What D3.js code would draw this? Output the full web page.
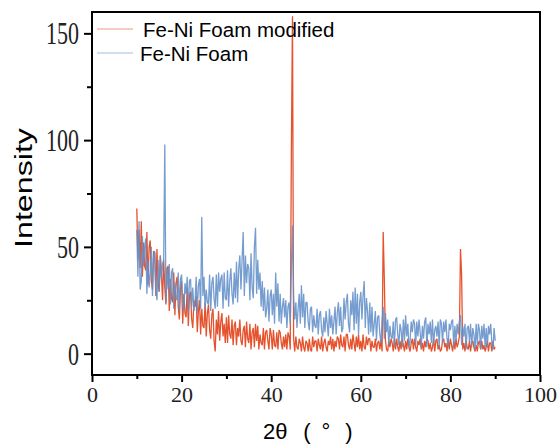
<!DOCTYPE html>
<html>
<head>
<meta charset="utf-8">
<script src="https://cdn.jsdelivr.net/npm/d3@7"></script>
<style>
    body { margin: 0; background: #fff; }
    #chart { width: 559px; height: 448px; }
</style>
</head>
<body>
<div id="chart"></div>
<script>

// series names (legend order)
let seriesNames = ["Fe-Ni Foam modified", "Fe-Ni Foam"];
let seriesColors = ["#e5532e", "#6390c8"];

// 2θ scan grid, 10° .. 90°, 0.25° step
let twoTheta = d3.range(10, 90.001, 0.25);

// intensities (4 values per degree, starting at 10°)
let modifiedY = [
    68, 44, 58, 40,   62, 36, 52, 41,   39, 57, 32, 50,   53, 34, 30, 48,   47, 27, 49, 33,
    29, 46, 37, 25,   44, 31, 23, 40,   41, 20, 35, 26,   24, 38, 18, 33,   36, 22, 16, 31,
    34, 14, 28, 19,   17, 31, 13, 27,   29, 16, 12, 25,   22, 27, 10, 20,   25, 9, 21, 13,
    12, 24, 8, 19,    23, 11, 7, 18,    21, 6, 1, 16,     9, 20, 6, 15,     19, 8, 14, 5,
    17, 5, 18, 9,     7, 16, 4, 13,     15, 4, 12, 8,     16, 6, 4, 11,     13, 3, 15, 7,
    5, 14, 2, 10,     12, 3, 14, 6,     13, 2, 9, 5,      4, 12, 2, 10,     11, 6, 2, 12,
    9, 2, 11, 4,      3, 10, 2, 11,     10, 5, 2, 8,      3, 9, 2, 10,      8, 2, 94, 158,
    7, 1, 8, 3,       2, 7, 5, 1,       8, 3, 1, 6,       5, 1, 7, 2,       1, 8, 3, 6,
    6, 1, 7, 4,       2, 8, 1, 5,       7, 3, 1, 6,       4, 8, 2, 7,       1, 6, 3, 8,
    7, 2, 9, 4,       3, 8, 1, 9,       9, 4, 2, 7,       2, 9, 5, 1,       8, 3, 9, 2,
    6, 1, 9, 3,       2, 8, 4, 7,       7, 1, 6, 3,       3, 7, 1, 5,       6, 2, 7, 1,
    57, 35, 6, 2,     1, 6, 3, 7,       5, 1, 7, 2,       7, 3, 1, 6,       2, 7, 4, 1,
    6, 2, 7, 3,       1, 5, 7, 2,       7, 3, 1, 6,       4, 7, 2, 5,       1, 6, 3, 7,
    6, 2, 5, 1,       3, 7, 1, 6,       7, 2, 4, 1,       2, 6, 7, 3,       5, 1, 7, 2,
    7, 4, 1, 6,       2, 7, 3, 5,       8, 49, 37, 2,     5, 1, 6, 3,       2, 6, 1, 5,
    6, 3, 1, 4,       1, 5, 6, 2,       6, 2, 4, 1,       3, 6, 1, 5,       5, 1, 6, 2,
    3
];

let foamY = [
    58, 36, 62, 30,   34, 55, 41, 50,   54, 28, 44, 31,   38, 50, 27, 46,   48, 30, 25, 44,
    29, 46, 35, 42,   44, 98, 24, 40,   30, 42, 23, 38,   40, 21, 33, 26,   25, 38, 20, 35,
    37, 23, 20, 33,   28, 36, 19, 34,   35, 22, 31, 20,   24, 36, 19, 32,   35, 21, 64, 27,
    36, 21, 30, 24,   23, 37, 20, 33,   36, 26, 21, 37,   22, 38, 29, 35,   37, 21, 38, 26,
    25, 39, 22, 34,   40, 28, 23, 38,   26, 43, 24, 40,   46, 30, 44, 57,   27, 46, 33, 42,
    40, 25, 47, 31,   26, 50, 59, 28,   44, 30, 38, 22,   34, 20, 31, 17,   21, 30, 15, 27,
    30, 18, 28, 14,   38, 22, 33, 15,   28, 14, 22, 26,   17, 25, 12, 22,   24, 14, 40, 60,
    26, 16, 24, 12,   21, 28, 14, 32,   17, 28, 12, 24,   24, 15, 11, 21,   22, 10, 18, 13,
    12, 21, 9, 18,    20, 11, 8, 17,    10, 20, 14, 8,    21, 12, 18, 9,    15, 22, 9, 19,
    24, 13, 22, 10,   12, 26, 16, 24,   28, 14, 10, 25,   18, 29, 11, 31,   14, 28, 9, 24,
    29, 16, 27, 34,   12, 26, 20, 9,    24, 10, 22, 8,    14, 20, 6, 17,    18, 9, 5, 15,
    22, 7, 19, 10,    16, 4, 13, 8,     7, 15, 3, 16,     17, 9, 4, 14,     11, 3, 16, 6,
    18, 8, 14, 3,     6, 15, 10, 16,    14, 4, 15, 8,     16, 10, 3, 13,    7, 15, 17, 3,
    14, 9, 15, 5,     16, 4, 11, 13,    8, 15, 3, 16,     14, 5, 15, 10,    16, 7, 3, 14,
    11, 15, 16, 3,    13, 6, 14, 9,     15, 18, 4, 13,    8, 14, 2, 12,     13, 6, 14, 3,
    12, 9, 2, 14,     4, 14, 11, 2,     13, 7, 14, 3,     12, 3, 13, 9,     14, 5, 2, 12,
    6
];

// axis ticks
let xTicks = [0, 20, 40, 60, 80, 100];
let xMinorTicks = [10, 30, 50, 70, 90];
let yTicks = [0, 50, 100, 150];
let yMinorTicks = [25, 75, 125];


class XrdVis {

    constructor(parentElement) {
        this.parentElement = parentElement;
        this.initVis();
    }

    initVis() {
        let vis = this;

        vis.margin = {top: 12, right: 19, bottom: 73, left: 92};
        vis.width = 559 - vis.margin.left - vis.margin.right;
        vis.height = 448 - vis.margin.top - vis.margin.bottom;

        vis.svg = d3.select("#" + vis.parentElement).append("svg")
            .attr("width", 559)
            .attr("height", 448)
            .append("g")
            .attr("transform", `translate(${vis.margin.left}, ${vis.margin.top})`);

        vis.x = d3.scaleLinear().domain([0, 100]).range([0, vis.width]);
        vis.y = d3.scaleLinear().domain([-10, 160]).range([vis.height, 0]);

        vis.svg.append("clipPath").attr("id", "plotClip")
            .append("rect")
            .attr("width", vis.width)
            .attr("height", vis.height);

        vis.wrangleData();
    }

    wrangleData() {
        let vis = this;

        vis.series = [modifiedY, foamY].map((ys, i) => ({
            name: seriesNames[i],
            color: seriesColors[i],
            values: ys.map((v, j) => ({x: twoTheta[j], y: v}))
        }));

        vis.updateVis();
    }

    updateVis() {
        let vis = this;

        let line = d3.line()
            .x(d => vis.x(d.x))
            .y(d => vis.y(d.y));

        // curves
        vis.svg.append("g")
            .attr("clip-path", "url(#plotClip)")
            .selectAll("path")
            .data(vis.series)
            .enter()
            .append("path")
            .attr("d", d => line(d.values))
            .attr("fill", "none")
            .attr("stroke", d => d.color)
            .attr("stroke-width", 1.3)
            .attr("stroke-linejoin", "bevel")
            .attr("stroke-opacity", (d, i) => i == 0 ? 1 : 0.88);

        // frame
        vis.svg.append("rect")
            .attr("width", vis.width)
            .attr("height", vis.height)
            .attr("fill", "none")
            .attr("stroke", "#000")
            .attr("stroke-width", 2);

        // x axis
        let xAxis = vis.svg.append("g")
            .attr("transform", `translate(0, ${vis.height})`)
            .call(d3.axisBottom(vis.x).tickValues(xTicks).tickSize(7).tickPadding(4));
        vis.svg.append("g")
            .attr("transform", `translate(0, ${vis.height})`)
            .call(d3.axisBottom(vis.x).tickValues(xMinorTicks).tickSize(4).tickFormat(""))
            .call(g => g.select(".domain").remove());

        // y axis
        let yAxis = vis.svg.append("g")
            .call(d3.axisLeft(vis.y).tickValues(yTicks).tickSize(8).tickPadding(5));
        vis.svg.append("g")
            .call(d3.axisLeft(vis.y).tickValues(yMinorTicks).tickSize(5).tickFormat(""))
            .call(g => g.select(".domain").remove());

        vis.svg.selectAll(".domain").remove();
        vis.svg.selectAll(".tick line").attr("stroke", "#000").attr("stroke-width", 2);

        xAxis.selectAll("text")
            .attr("font-family", "Liberation Serif, serif")
            .attr("font-size", 22)
            .attr("fill", "#222");

        yAxis.selectAll("text")
            .attr("font-family", "Liberation Serif, serif")
            .attr("font-size", 22)
            .attr("fill", "#222")
            .attr("dy", null)
            .attr("transform", "scale(1,1.4)")
            .attr("y", 0)
            .attr("dominant-baseline", "central");

        // axis titles
        vis.svg.append("text")
            .attr("transform", `translate(${32 - vis.margin.left}, ${188 - vis.margin.top}) scale(1,1.4) rotate(-90)`)
            .attr("text-anchor", "middle")
            .attr("font-family", "Liberation Sans, Arial, sans-serif")
            .attr("font-size", 23)
            .text("Intensity");

        // x title: "2θ" then full-width style "（°）" laid out piece by piece
        let xTitle = vis.svg.append("g")
            .attr("transform", `translate(${-vis.margin.left}, ${439 - vis.margin.top})`)
            .attr("font-family", "Liberation Sans, Arial, sans-serif")
            .attr("font-size", 22);
        xTitle.append("text").attr("x", 263).text("2θ");
        xTitle.append("text").attr("x", 307).attr("text-anchor", "middle").text("(");
        xTitle.append("text").attr("x", 326).attr("text-anchor", "middle").text("°");
        xTitle.append("text").attr("x", 349).attr("text-anchor", "middle").text(")");

        // legend
        let legend = vis.svg.selectAll(".legend")
            .data(vis.series)
            .enter()
            .append("g")
            .attr("class", "legend")
            .attr("transform", (d, i) => `translate(${97 - vis.margin.left}, ${29 + i * 24 - vis.margin.top})`);

        legend.append("line")
            .attr("x1", 0).attr("x2", 36)
            .attr("stroke", d => d.color)
            .attr("stroke-opacity", 0.6)
            .attr("stroke-width", 1);

        legend.append("text")
            .attr("x", (d, i) => i == 0 ? 46 : 43)
            .attr("y", 8)
            .attr("font-family", "Liberation Sans, Arial, sans-serif")
            .attr("font-size", 20.5)
            .text(d => d.name);
    }
}

new XrdVis("chart");
</script>
</body>
</html>
